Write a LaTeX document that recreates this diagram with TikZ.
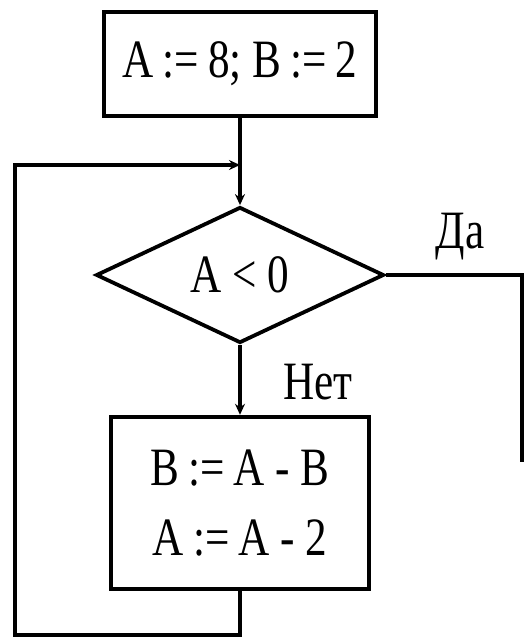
\documentclass[tikz,border=0pt]{standalone}
\usepackage{fontspec}
\setmainfont{Liberation Serif}[FakeStretch=0.8]
\usepackage{tikz}
\usetikzlibrary{arrows.meta, shapes.geometric}

\newcommand{\flowfont}{\fontsize{54}{70}\selectfont}

\begin{document}
\begin{tikzpicture}[
      x=1pt, y=-1pt,
      blk/.style={draw, line width=4.4pt, inner sep=0pt, font=\flowfont},
      cond/.style={diamond, draw, line width=3.8pt, inner sep=0pt,
        minimum width=288pt, minimum height=136pt, font=\flowfont},
      arr/.style={-{Stealth[length=11pt, width=10pt]}, line width=3.2pt},
      wire/.style={line width=3.2pt},
      lbl/.style={font=\flowfont}
    ]
    \useasboundingbox (0,0) rectangle (531,640);

    % ══ blocks ════════════════════════════════════════════════════════════════
    \node[blk, minimum width=272pt, minimum height=104pt] (init) at (240,64)
      {A\,:=\,8; B\,:=\,2};

    \node[cond] (test) at (240,275) {A < 0};

    \node[blk, minimum width=258pt, minimum height=172pt, align=center]
      (body) at (240,503) {B\,:=\,A - B\\A\,:=\,A - 2};

    % helper points
    \coordinate (join) at (240,165);
    \coordinate (loopbl) at (15,635);
    \coordinate (yesend) at (522,462);

    % ══ connectors ════════════════════════════════════════════════════════════
    \draw[arr] (init.south) -- (test.north);
    \draw[arr] (test.south) -- (body.north);
    \draw[arr] (body.south) |- (loopbl) |- (join);
    \draw[wire] (test.east) -| (yesend);

    % branch labels
    \node[lbl] (yes) at (460,237) {Да};
    \node[lbl] (no) at (318,382) {Нет};

  \end{tikzpicture}
\end{document}
